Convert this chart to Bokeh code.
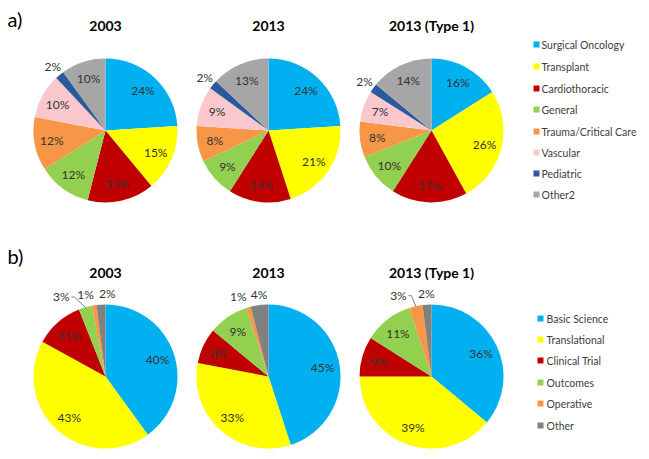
import numpy as np
from bokeh.plotting import figure
from bokeh.models import Range1d, ColumnDataSource
from bokeh.core.properties import value
from bokeh.embed import file_html
from bokeh.resources import INLINE

# ---------------- data ----------------
titles = ["2003", "2013", "2013 (Type 1)"]

cats_a = ["Surgical Oncology", "Transplant", "Cardiothoracic", "General",
          "Trauma/Critical Care", "Vascular", "Pediatric", "Other2"]
a_2003 = [24, 15, 15, 12, 12, 10, 2, 10]
a_2013 = [24, 21, 14, 9, 8, 9, 2, 13]
a_2013_t1 = [16, 26, 17, 10, 8, 7, 2, 14]

cats_b = ["Basic Science", "Translational", "Clinical Trial", "Outcomes",
          "Operative", "Other"]
b_2003 = [40, 43, 11, 3, 1, 2]
b_2013 = [45, 33, 8, 9, 1, 4]
b_2013_t1 = [36, 39, 9, 11, 3, 2]

# ---------------- style / layout ----------------
colors_a = ["#00B0F0", "#FFFF00", "#C00000", "#92D050", "#F79646",
            "#FAC8CC", "#2A5A9C", "#A6A6A6"]
colors_b = ["#00B0F0", "#FFFF00", "#C00000", "#92D050", "#F79646", "#808080"]

FW, FH = 641, 451
FONT = "Lato"
LABEL_COLOR = "#333333"
R = 72

def Y(iy):
    return FH - iy

p = figure(width=FW, height=FH, output_backend="svg", toolbar_location=None,
           x_range=Range1d(0, FW), y_range=Range1d(0, FH), min_border=0)
p.axis.visible = False
p.grid.visible = False
p.outline_line_color = None
p.background_fill_color = "white"

centers_x = [105, 268, 431]
row_a_cy, row_b_cy = 130, 376
title_a_y, title_b_y = 25, 272

# outside label nudges: {(row, chart): {slice_index: dx}}
outside = {
    ("a", 0): {6: 0}, ("a", 1): {6: 0}, ("a", 2): {6: 0},
    ("b", 0): {3: -21, 4: -7, 5: 7},
    ("b", 1): {4: -7, 5: 1},
    ("b", 2): {4: -15, 5: 0},
}
leaders = {("b", 0): [3], ("b", 2): [4]}


def draw_pie(row, ci, vals, colors, cx, cy_img):
    v = np.array(vals, dtype=float)
    frac = v / v.sum()
    cum = np.concatenate([[0], np.cumsum(frac)])
    start = np.pi / 2 - 2 * np.pi * cum[:-1]
    end = np.pi / 2 - 2 * np.pi * cum[1:]
    cy = Y(cy_img)
    src = ColumnDataSource(dict(x=[cx] * len(v), y=[cy] * len(v),
                                s=list(start), e=list(end), c=colors))
    p.wedge(x="x", y="y", radius=R, start_angle="s", end_angle="e",
            direction="clock", fill_color="c", line_color=None, source=src)
    mid = (start + end) / 2
    lx, ly, txt = [], [], []
    out = outside.get((row, ci), {})
    for i, val in enumerate(vals):
        if i in out:
            rr = 1.15 * R
            x = cx + rr * np.cos(mid[i]) + out[i]
            y = cy + rr * np.sin(mid[i])
            if i in leaders.get((row, ci), []):
                ex = cx + R * np.cos(mid[i])
                ey = cy + R * np.sin(mid[i])
                p.line([x + 10, x + 13, ex], [y, y, ey], line_color="#7F7F7F",
                       line_width=1)
        else:
            rr = 0.76 * R
            x = cx + rr * np.cos(mid[i])
            y = cy + rr * np.sin(mid[i])
        lx.append(x)
        ly.append(y)
        txt.append(f"{val}%")
    p.text(lx, ly, text=txt, text_font=value(FONT), text_font_size="12px",
           text_align="center", text_baseline="middle", text_color=LABEL_COLOR)


def draw_title(t, cx, iy):
    p.text([cx], [Y(iy)], text=[t], text_font=value(FONT), text_font_size="14px",
           text_font_style="bold", text_align="center", text_baseline="middle",
           text_color="black")


def draw_legend(cats, colors, sq_x, text_x, row_ys):
    ys = [Y(v) for v in row_ys]
    p.rect([sq_x + 3] * len(cats), ys, width=6, height=6, fill_color=colors,
           line_color=None)
    p.text([text_x] * len(cats), ys, text=cats, text_font=value(FONT),
           text_font_size="10.5px", text_align="left", text_baseline="middle",
           text_color="#404040")


for ci, vals in enumerate([a_2003, a_2013, a_2013_t1]):
    draw_pie("a", ci, vals, colors_a, centers_x[ci], row_a_cy)
    draw_title(titles[ci], centers_x[ci], title_a_y)
for ci, vals in enumerate([b_2003, b_2013, b_2013_t1]):
    draw_pie("b", ci, vals, colors_b, centers_x[ci], row_b_cy)
    draw_title(titles[ci], centers_x[ci], title_b_y)

draw_legend(cats_a, colors_a, 533, 541, [44, 66, 88, 109, 131, 152, 173, 194])
draw_legend(cats_b, colors_b, 537, 546, [318, 339, 360, 382, 403, 425])

p.text([7, 7], [Y(18), Y(255)], text=["a)", "b)"], text_font=value(FONT),
       text_font_size="20px", text_align="left", text_baseline="middle",
       text_color="black")

open("out.html", "w").write(file_html(p, INLINE))
